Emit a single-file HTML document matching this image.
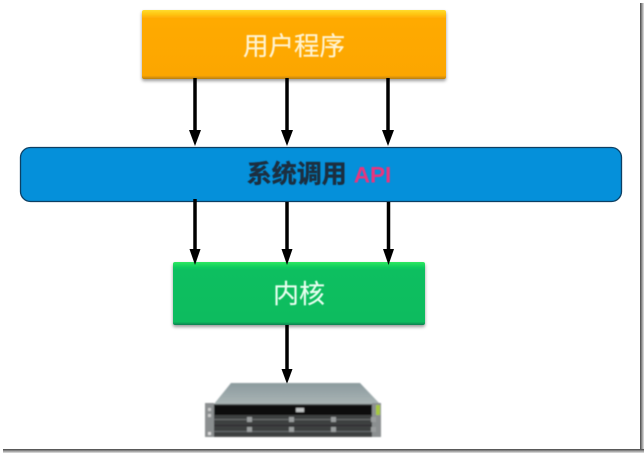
<!DOCTYPE html>
<html><head><meta charset="utf-8"><style>
html,body{margin:0;padding:0;background:#fff;width:644px;height:453px;overflow:hidden}
svg{display:block}
text{font-family:"Liberation Sans","Noto Sans CJK SC",sans-serif;text-anchor:middle}
</style></head><body>
<svg width="644" height="453" viewBox="0 0 644 453" xmlns="http://www.w3.org/2000/svg">
<defs>
<linearGradient id="o" x1="0" y1="0" x2="0" y2="1"><stop offset="0" stop-color="#ffdc2e"/><stop offset=".07" stop-color="#ffc20e"/><stop offset=".12" stop-color="#ffaa05"/><stop offset=".95" stop-color="#fca604"/><stop offset="1" stop-color="#b9800f"/></linearGradient>
<linearGradient id="g" x1="0" y1="0" x2="0" y2="1"><stop offset="0" stop-color="#2fe860"/><stop offset=".07" stop-color="#12d05e"/><stop offset=".13" stop-color="#07bf60"/><stop offset=".95" stop-color="#07bc5e"/><stop offset="1" stop-color="#0d8050"/></linearGradient>
<linearGradient id="top" x1="0" y1="0" x2="0" y2="1"><stop offset="0" stop-color="#8b9a9e"/><stop offset="1" stop-color="#a9b4b4"/></linearGradient>
<linearGradient id="fr" x1="0" y1="0" x2="1" y2="0"><stop offset="0" stop-color="#444"/><stop offset=".3" stop-color="#777"/><stop offset="1" stop-color="#e4e4e4"/></linearGradient>
<linearGradient id="fb" x1="0" y1="0" x2="0" y2="1"><stop offset="0" stop-color="#444"/><stop offset=".3" stop-color="#777"/><stop offset="1" stop-color="#e4e4e4"/></linearGradient>
<filter id="s" x="-5%" y="-10%" width="110%" height="125%"><feDropShadow dx="0" dy="2" stdDeviation="1.5" flood-color="#000" flood-opacity=".4"/></filter>
<filter id="b1" x="-5%" y="-5%" width="110%" height="110%"><feGaussianBlur stdDeviation=".7"/></filter>
<filter id="b2" x="-5%" y="-20%" width="110%" height="140%"><feGaussianBlur stdDeviation=".4"/></filter>
</defs>

<!-- frame -->
<rect x="640" y="3" width="4" height="450" fill="url(#fr)"/>
<rect x="3" y="449" width="641" height="4" fill="url(#fb)"/>

<!-- boxes -->
<rect x="142" y="10" width="304" height="69" rx="2" fill="url(#o)" filter="url(#s)"/>
<text x="294" y="55" font-size="25.500" fill="#fff3d0" stroke="#fff3d0" stroke-width=".2" filter="url(#b2)">用户程序</text>

<rect x="20.5" y="147.5" width="601" height="54" rx="10" fill="#0590da" stroke="#0c3f63" stroke-width="1.3"/>
<text x="319" y="182.500" font-size="25" font-weight="700" filter="url(#b2)"><tspan fill="#1b2f3f" stroke="#1b2f3f" stroke-width=".4">系统调用</tspan><tspan fill="#e8357e" dx="7" font-size="22.500">API</tspan></text>

<rect x="173" y="262" width="252" height="63" rx="2" fill="url(#g)" filter="url(#s)"/>
<text x="299" y="303" font-size="26" fill="#e8fff0" stroke="#e8fff0" stroke-width=".2" filter="url(#b2)">内核</text>

<!-- arrows -->
<g stroke="#000" stroke-width="3.500">
<line x1="195" y1="78" x2="195" y2="132"/>
<line x1="287" y1="78" x2="287" y2="132"/>
<line x1="388" y1="78" x2="388" y2="132"/>
<line x1="195" y1="199" x2="195" y2="250"/>
<line x1="287" y1="202" x2="287" y2="250"/>
<line x1="388.500" y1="202" x2="388.500" y2="250"/>
<line x1="287" y1="325" x2="287" y2="372"/>
</g>
<g fill="#000">
<polygon points="189,130 201,130 195,146"/>
<polygon points="281,130 293,130 287,146"/>
<polygon points="382,130 394,130 388,146"/>
<polygon points="189.500,249 200.500,249 195,265"/>
<polygon points="281.500,249 292.500,249 287,265"/>
<polygon points="383,249 394,249 388.500,265"/>
<polygon points="281.500,369 292.500,369 287,384"/>
</g>

<!-- server -->
<g filter="url(#b1)">
<polygon points="231,383 360,383 380,404 214,404" fill="url(#top)"/>
<rect x="205" y="404" width="176" height="33" fill="#4d5050"/>
<rect x="205" y="403" width="9" height="34" fill="#8b8f90"/>
<rect x="372" y="403" width="9" height="34" fill="#8b8f90"/>
<rect x="214" y="405" width="158" height="10" fill="#0d0f10"/>
<rect x="214" y="415" width="158" height="21" fill="#3c3f40"/>
<rect x="376" y="405" width="4" height="10" fill="#a6c83c"/>
<rect x="214" y="419" width="158" height="1" fill="#6f7374"/>
<rect x="214" y="425" width="158" height="1" fill="#25282a"/>
<rect x="214" y="431" width="158" height="1" fill="#6a6e70"/>
<g fill="#9a9d9e">
<rect x="247" y="417" width="5" height="5"/><rect x="289" y="417" width="5" height="5"/><rect x="331" y="417" width="5" height="5"/><rect x="371" y="417" width="5" height="5"/>
<rect x="247" y="427" width="5" height="5"/><rect x="289" y="427" width="5" height="5"/><rect x="331" y="427" width="5" height="5"/><rect x="371" y="427" width="5" height="5"/>
</g>
<rect x="296" y="408" width="8" height="4" fill="#bfc2c2"/>
<rect x="208" y="408" width="3" height="3" fill="#ccc"/><rect x="208" y="414" width="3" height="3" fill="#ccc"/><rect x="208" y="432" width="3" height="3" fill="#ddd"/>
</g>
</svg>
</body></html>
